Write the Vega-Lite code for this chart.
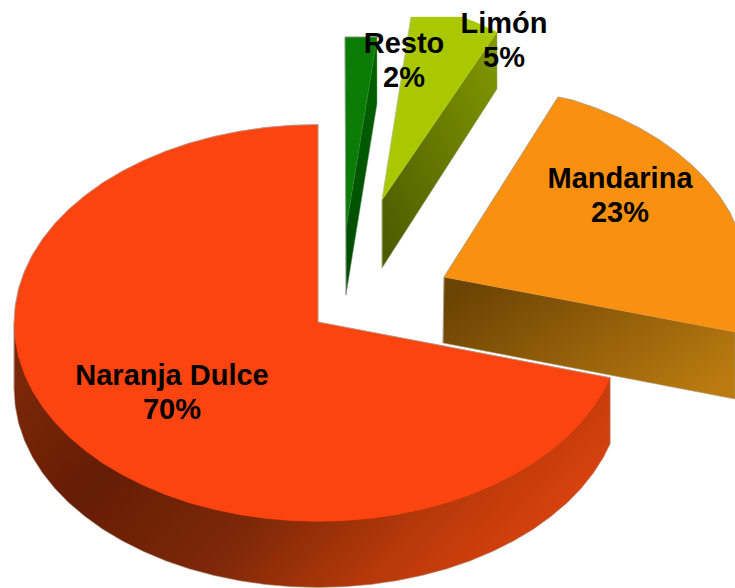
{
"$schema":"https://vega.github.io/schema/vega-lite/v6.json",
"width":735,"height":588,"padding":0,"autosize":{"type":"none"},
"background":"white",
"config":{"view":{"stroke":null}},
"datasets":{
"restoTop":[{"x":345,"y":37},{"x":377,"y":37},{"x":346,"y":228}],
"restoWall":[{"x":346,"y":228},{"x":377,"y":37},{"x":377,"y":104},{"x":346,"y":295}],
"restoEdge":[{"x":346,"y":295},{"x":345,"y":37},{"x":377,"y":37}],
"limonTop":[{"x":382,"y":200},{"x":411,"y":17},{"x":462,"y":17},{"x":475,"y":22},{"x":497,"y":32}],
"limonWall":[{"x":382,"y":200},{"x":497,"y":32},{"x":497,"y":89},{"x":382,"y":268}],
"limonEdge":[{"x":382,"y":268},{"x":382,"y":200},{"x":411,"y":17}],
"mandWall":[{"x":444,"y":277},{"x":735,"y":332},{"x":735,"y":399},{"x":443,"y":343}],
"mandTop":[{"x":444,"y":277},{"x":558,"y":97},{"x":572.5,"y":100.1},{"x":596,"y":108.1},{"x":618.4,"y":117.4},{"x":639.4,"y":127.9},{"x":659,"y":139.6},{"x":676.9,"y":152.4},{"x":693,"y":166.1},{"x":707.3,"y":180.7},{"x":719.5,"y":196.1},{"x":729.7,"y":212.1},{"x":735,"y":224},{"x":735,"y":332}],
"mandEdge":[{"x":443,"y":343},{"x":444,"y":277},{"x":558,"y":97},{"x":572.5,"y":100.1},{"x":596,"y":108.1},{"x":618.4,"y":117.4},{"x":639.4,"y":127.9},{"x":659,"y":139.6},{"x":676.9,"y":152.4},{"x":693,"y":166.1},{"x":707.3,"y":180.7},{"x":719.5,"y":196.1},{"x":729.7,"y":212.1},{"x":735,"y":224}],
"narWall":[{"x":14,"y":323},{"x":14,"y":389},{"x":15.2,"y":406.3},{"x":18.6,"y":423.5},{"x":24.4,"y":440.4},{"x":32.3,"y":456.9},{"x":42.5,"y":472.9},{"x":54.7,"y":488.3},{"x":69,"y":502.9},{"x":85.1,"y":516.6},{"x":103,"y":529.4},{"x":122.6,"y":541.1},{"x":143.6,"y":551.6},{"x":166,"y":560.9},{"x":189.5,"y":568.9},{"x":214,"y":575.5},{"x":239.3,"y":580.7},{"x":265.2,"y":584.5},{"x":291.5,"y":586.7},{"x":318,"y":587.5},{"x":344.5,"y":586.7},{"x":370.8,"y":584.5},{"x":396.7,"y":580.7},{"x":422,"y":575.5},{"x":446.5,"y":568.9},{"x":470,"y":560.9},{"x":492.4,"y":551.6},{"x":513.4,"y":541.1},{"x":533,"y":529.4},{"x":550.9,"y":516.6},{"x":567,"y":502.9},{"x":581.3,"y":488.3},{"x":593.5,"y":472.9},{"x":603.7,"y":456.9},{"x":610.2,"y":443.7},{"x":610.2,"y":377.7},{"x":318,"y":400}],
"narTop":[{"x":318,"y":322},{"x":318,"y":124.5},{"x":291.5,"y":125.3},{"x":265.2,"y":127.5},{"x":239.3,"y":131.3},{"x":214,"y":136.5},{"x":189.5,"y":143.1},{"x":166,"y":151.1},{"x":143.6,"y":160.4},{"x":122.6,"y":170.9},{"x":103,"y":182.6},{"x":85.1,"y":195.4},{"x":69,"y":209.1},{"x":54.7,"y":223.7},{"x":42.5,"y":239.1},{"x":32.3,"y":255.1},{"x":24.4,"y":271.6},{"x":18.6,"y":288.5},{"x":15.2,"y":305.7},{"x":14,"y":323},{"x":15.2,"y":340.3},{"x":18.6,"y":357.5},{"x":24.4,"y":374.4},{"x":32.3,"y":390.9},{"x":42.5,"y":406.9},{"x":54.7,"y":422.3},{"x":69,"y":436.9},{"x":85.1,"y":450.6},{"x":103,"y":463.4},{"x":122.6,"y":475.1},{"x":143.6,"y":485.6},{"x":166,"y":494.9},{"x":189.5,"y":502.9},{"x":214,"y":509.5},{"x":239.3,"y":514.7},{"x":265.2,"y":518.5},{"x":291.5,"y":520.7},{"x":318,"y":521.5},{"x":344.5,"y":520.7},{"x":370.8,"y":518.5},{"x":396.7,"y":514.7},{"x":422,"y":509.5},{"x":446.5,"y":502.9},{"x":470,"y":494.9},{"x":492.4,"y":485.6},{"x":513.4,"y":475.1},{"x":533,"y":463.4},{"x":550.9,"y":450.6},{"x":567,"y":436.9},{"x":581.3,"y":422.3},{"x":593.5,"y":406.9},{"x":603.7,"y":390.9},{"x":610.2,"y":377.7}],
"narEdge":[{"x":610.2,"y":377.7},{"x":318,"y":322},{"x":318,"y":124.5},{"x":291.5,"y":125.3},{"x":265.2,"y":127.5},{"x":239.3,"y":131.3},{"x":214,"y":136.5},{"x":189.5,"y":143.1},{"x":166,"y":151.1},{"x":143.6,"y":160.4},{"x":122.6,"y":170.9},{"x":103,"y":182.6},{"x":85.1,"y":195.4},{"x":69,"y":209.1},{"x":54.7,"y":223.7},{"x":42.5,"y":239.1},{"x":32.3,"y":255.1},{"x":24.4,"y":271.6},{"x":18.6,"y":288.5},{"x":15.2,"y":305.7},{"x":14,"y":323},{"x":14,"y":389}],
"labels":[
{"label":"Naranja Dulce\n70%","share":70,"x":172,"y":376},
{"label":"Mandarina\n23%","share":23,"x":620,"y":179},
{"label":"Limón\n5%","share":5,"x":504,"y":24},
{"label":"Resto\n2%","share":2,"x":404,"y":44}
]},
"encoding":{
"x":{"field":"x","type":"quantitative","scale":{"domain":[0,735]},"axis":null},
"y":{"field":"y","type":"quantitative","scale":{"domain":[0,588],"reverse":true},"axis":null}
},
"layer":[
{"data":{"name":"restoWall"},"mark":{"type":"line","interpolate":"linear-closed","stroke":"#7f9f7f","strokeWidth":0.5,"fill":{"gradient":"linear","x1":0,"y1":0,"x2":0,"y2":1,"stops":[{"offset":0,"color":"#006400"},{"offset":1,"color":"#004a00"}]}},"encoding":{"order":{"value":null}}},
{"data":{"name":"restoTop"},"mark":{"type":"line","interpolate":"linear-closed","fill":"#0b7d06","stroke":"#0b7d06","strokeWidth":0.3},"encoding":{"order":{"value":null}}},
{"data":{"name":"restoEdge"},"mark":{"type":"line","color":"#8aa08a","strokeWidth":0.8},"encoding":{"order":{"value":null}}},
{"data":{"name":"limonWall"},"mark":{"type":"line","interpolate":"linear-closed","stroke":"#9aa07a","strokeWidth":0.5,"fill":{"gradient":"linear","x1":0,"y1":1,"x2":1,"y2":0,"stops":[{"offset":0,"color":"#4a5800"},{"offset":1,"color":"#829a00"}]}},"encoding":{"order":{"value":null}}},
{"data":{"name":"limonTop"},"mark":{"type":"line","interpolate":"linear-closed","fill":"#a9c800","stroke":"#a9c800","strokeWidth":0.3},"encoding":{"order":{"value":null}}},
{"data":{"name":"limonEdge"},"mark":{"type":"line","color":"#b6bd90","strokeWidth":0.8},"encoding":{"order":{"value":null}}},
{"data":{"name":"mandWall"},"mark":{"type":"line","interpolate":"linear-closed","stroke":"#a89878","strokeWidth":0.6,"fill":{"gradient":"linear","x1":0,"y1":0.2,"x2":1,"y2":0.8,"stops":[{"offset":0,"color":"#6b4303"},{"offset":1,"color":"#bb7b10"}]}},"encoding":{"order":{"value":null}}},
{"data":{"name":"mandTop"},"mark":{"type":"line","interpolate":"linear-closed","fill":"#f9900f","stroke":"#f9900f","strokeWidth":0.3},"encoding":{"order":{"value":null}}},
{"data":{"name":"mandEdge"},"mark":{"type":"line","color":"#a89a86","strokeWidth":0.8},"encoding":{"order":{"value":null}}},
{"data":{"name":"narWall"},"mark":{"type":"line","interpolate":"linear-closed","stroke":"#b09a90","strokeWidth":0.6,"fill":{"gradient":"linear","x1":0,"y1":0.3,"x2":1,"y2":0.7,"stops":[{"offset":0,"color":"#7a2608"},{"offset":0.22,"color":"#651d04"},{"offset":0.5,"color":"#7d2808"},{"offset":0.75,"color":"#b83909"},{"offset":1,"color":"#e24410"}]}},"encoding":{"order":{"value":null}}},
{"data":{"name":"narTop"},"mark":{"type":"line","interpolate":"linear-closed","fill":"#fc4410","stroke":"#fc4410","strokeWidth":0.3},"encoding":{"order":{"value":null}}},
{"data":{"name":"narEdge"},"mark":{"type":"line","color":"#b09a90","strokeWidth":0.8},"encoding":{"order":{"value":null}}},
{"data":{"name":"labels"},"mark":{"type":"text","font":"Liberation Sans","fontWeight":"bold","fontSize":29,"lineBreak":"\n","lineHeight":34,"align":"center","baseline":"middle","color":"black"},"encoding":{"text":{"field":"label"}}}
]
}
